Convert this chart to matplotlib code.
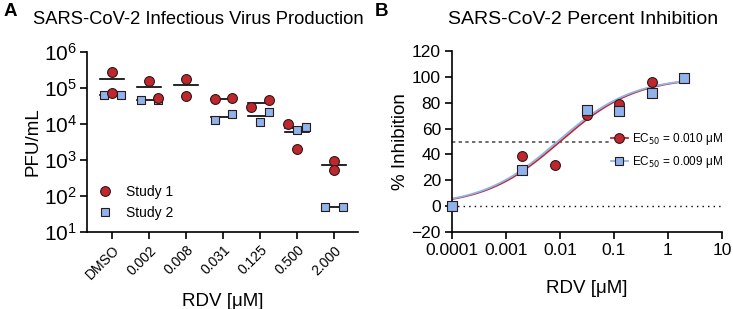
import numpy as np
import matplotlib
matplotlib.use("Agg")
import matplotlib.pyplot as plt
from matplotlib.lines import Line2D
from matplotlib.ticker import LogLocator

plt.rcParams['font.family'] = ['Liberation Sans', 'DejaVu Sans']
plt.rcParams['axes.linewidth'] = 1.2

RED = '#c0272d'
BLUE = '#8fb3ea'
EDGE = '#2a1a1a'

# panel A: PFU/mL per dose group
categories = ['DMSO', '0.002', '0.008', '0.031', '0.125', '0.500', '2.000']
study1_vals = [[2.8e5, 7.2e4], [1.6e5, 5.2e4], [1.8e5, 6.0e4], [4.9e4, 5.2e4],
               [2.9e4, 4.6e4], [1.0e4, 2.0e3], [9.4e2, 5.2e2]]
study2_vals = [[6.3e4, 6.3e4], [4.6e4, 4.6e4], [], [1.3e4, 1.9e4],
               [1.15e4, 2.1e4], [6.8e3, 8.3e3], [49, 49]]
# horizontal jitter of the points, like the prism scatter
study1_jit = [[0, 0], [0, 0.7], [0, 0], [-0.7, 0.7], [-0.7, 0.7], [-0.7, 0], [0, 0]]
study2_jit = [[-0.7, 0.7], [-0.7, 0.7], [], [-0.7, 0.7], [0, 0.7], [0, 0.7], [-0.7, 0.7]]

# panel B: percent inhibition
conc1 = [0.0001, 0.002, 0.008, 0.031, 0.125, 0.5, 2.0]
inhib1 = [0, 38.7, 31.5, 70.5, 78.7, 96, 99]
conc2 = [0.0001, 0.002, 0.031, 0.125, 0.5, 2.0]
inhib2 = [0, 27.7, 74.6, 73.3, 87.7, 99]
ec50_1 = 0.010
ec50_2 = 0.009
hill = 0.62


def hill_curve(x, ec50):
    return 100.0 / (1 + (ec50 / x) ** hill)


fig = plt.figure(figsize=(7.33, 3.09), dpi=100)

# ---------- panel A ----------
axA = fig.add_axes([87 / 733, 1 - 232 / 309, 271 / 733, 180 / 309])
off = 0.33
for i in range(len(categories)):
    s1 = study1_vals[i]
    s2 = study2_vals[i]
    if s1:
        m = np.mean(s1)
        axA.plot([i - off, i + off], [m, m], color='black', lw=1.2, zorder=2)
    if s2:
        m = np.mean(s2)
        axA.plot([i - off, i + off], [m, m], color='black', lw=1.2, zorder=2)
    if s2:
        axA.scatter(i + np.array(study2_jit[i]) * off, s2, marker='s', s=40,
                    color=BLUE, edgecolor=EDGE, lw=0.8, zorder=3)
    axA.scatter(i + np.array(study1_jit[i]) * off, s1, marker='o', s=50,
                color=RED, edgecolor=EDGE, lw=0.8, zorder=4)

axA.set_yscale('log')
axA.set_ylim(10, 1e6)
axA.yaxis.set_major_locator(LogLocator(base=10, numticks=10))
axA.set_xlim(-0.68, 6.65)
axA.set_xticks(range(len(categories)))
axA.set_xticklabels(categories, rotation=45, ha='right', rotation_mode='anchor', fontsize=10)
axA.minorticks_off()
axA.tick_params(axis='y', labelsize=15, length=5, width=1.2, pad=2)
axA.tick_params(axis='x', length=5, width=1.2, pad=3)
axA.spines['top'].set_visible(False)
axA.spines['right'].set_visible(False)
axA.set_ylabel('PFU/mL', fontsize=13.5, labelpad=2)
axA.set_xlabel('RDV [\u03bcM]', fontsize=13.5, labelpad=8)

hA = [Line2D([], [], marker='o', ls='', ms=7, color=RED, mec=EDGE, mew=0.8),
      Line2D([], [], marker='s', ls='', ms=6.3, color=BLUE, mec=EDGE, mew=0.8)]
axA.legend(hA, ['Study 1', 'Study 2'], loc='lower left', bbox_to_anchor=(-0.03, 0.0),
           frameon=False, fontsize=10, handletextpad=0.5, labelspacing=0.45)

# ---------- panel B ----------
axB = fig.add_axes([452 / 733, 1 - 232 / 309, 270 / 733, 181 / 309])
xs = np.logspace(-4, np.log10(2.0), 200)
axB.axhline(0, color='black', lw=1, ls=(0, (1, 3)), zorder=1)
axB.plot([1e-4, 0.085], [50, 50], color='#555555', lw=1.2, ls=(0, (2, 2)), zorder=1)
axB.plot(xs, hill_curve(xs, ec50_1), color=RED, lw=1.3, zorder=2)
axB.plot(xs, hill_curve(xs, ec50_2), color=BLUE, lw=1.3, zorder=2)
axB.scatter(conc1, inhib1, marker='o', s=50, color=RED, edgecolor=EDGE, lw=0.8,
            zorder=4, clip_on=False)
axB.scatter(conc2, inhib2, marker='s', s=42, color=BLUE, edgecolor=EDGE, lw=0.8,
            zorder=5, clip_on=False)

axB.set_xscale('log')
axB.set_xlim(1e-4, 10)
axB.set_ylim(-20, 120)
axB.set_yticks(range(-20, 121, 20))
axB.set_xticks([1e-4, 1e-3, 1e-2, 1e-1, 1, 10])
axB.set_xticklabels(['0.0001', '0.001', '0.01', '0.1', '1', '10'])
axB.minorticks_off()
axB.tick_params(labelsize=12.5, length=5, width=1.2, pad=3)
axB.spines['top'].set_visible(False)
axB.spines['right'].set_visible(False)
axB.set_ylabel('% Inhibition', fontsize=13.5, labelpad=2)
axB.set_xlabel('RDV [\u03bcM]', fontsize=13.5, labelpad=16)

hB = [Line2D([], [], marker='o', color=RED, lw=1.3, ms=7, mec=EDGE, mew=0.8),
      Line2D([], [], marker='s', color=BLUE, lw=1.3, ms=6.3, mec=EDGE, mew=0.8)]
axB.legend(hB, ['EC$_{50}$ = 0.010 \u03bcM', 'EC$_{50}$ = 0.009 \u03bcM'],
           loc='center left', bbox_to_anchor=(0.55, 0.45), frameon=False,
           fontsize=8.5, handlelength=1.4, handletextpad=0.4, labelspacing=0.55)

# titles and panel letters
fig.text(198 / 733, 1 - 19 / 309, 'SARS-CoV-2 Infectious Virus Production',
         ha='center', va='center', fontsize=13.2)
fig.text(583 / 733, 1 - 19 / 309, 'SARS-CoV-2 Percent Inhibition',
         ha='center', va='center', fontsize=14)
fig.text(10 / 733, 1 - 12 / 309, 'A', ha='center', va='center', fontsize=13.5, fontweight='bold')
fig.text(381 / 733, 1 - 12 / 309, 'B', ha='center', va='center', fontsize=13.5, fontweight='bold')

fig.savefig('out.png', dpi=100)
